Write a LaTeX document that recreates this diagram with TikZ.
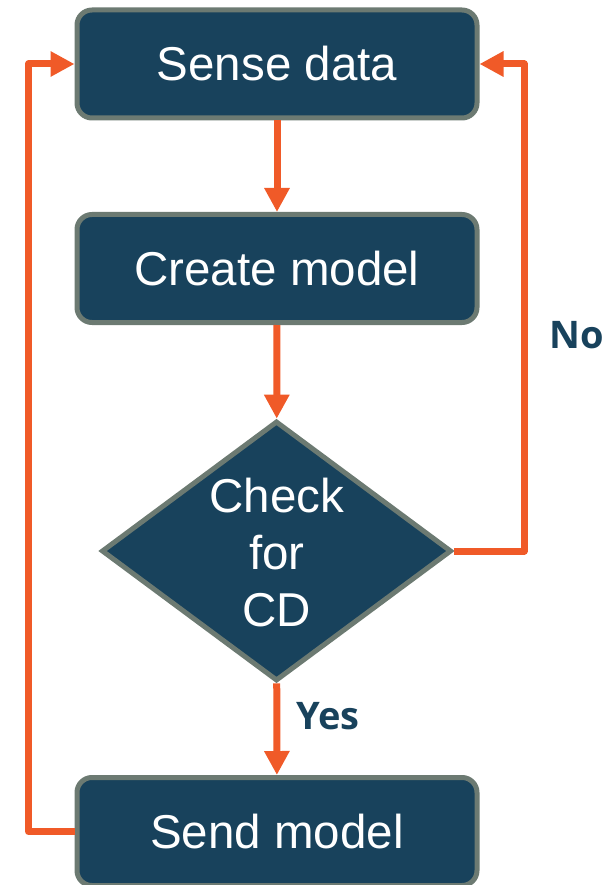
\documentclass[tikz,border=0pt]{standalone}
\usepackage{fontspec}
\setmainfont{Liberation Sans}
\newfontfamily\labfont{Open Sans}
\usetikzlibrary{shapes.geometric,arrows.meta}
\definecolor{boxfill}{HTML}{18425C}
\definecolor{boxline}{HTML}{6C7A72}
\definecolor{arrcol}{HTML}{F05A28}
\tikzset{
  stepbox/.style={draw=boxline, fill=boxfill, line width=5pt, rounded corners=15pt,
    minimum width=400pt, minimum height=108pt, inner sep=0pt, text=white,
    font=\fontsize{47.5}{57}\selectfont},
  decbox/.style={draw=boxline, fill=boxfill, line width=5pt, shape=diamond,
    minimum width=350pt, minimum height=260pt, inner sep=0pt},
  dectext/.style={text=white, align=center, font=\fontsize{47.5}{57}\selectfont, inner sep=0pt},
  flow/.style={draw=arrcol, line width=7pt, line join=round,
    -{Triangle[length=24pt,width=24pt]}},
  lab/.style={text=boxfill, font=\labfont\bfseries\fontsize{38}{42}\selectfont, inner sep=0pt}
}
\begin{document}
\begin{tikzpicture}[x=1pt,y=-1pt]
\useasboundingbox (0,0) rectangle (613,885);
\node[stepbox] (sense) at (277,64) {Sense data};
\node[stepbox] (create) at (277,268.5) {Create model};
\node[decbox] (check) at (276.5,551) {};
\node[dectext] (checktxt) at (277,553) {Check\\for\\CD};
\node[stepbox] (send) at (277,831.5) {Send model};
\coordinate (lb) at (28.5,831.5);
\coordinate (lt) at (28.5,64);
\coordinate (rb) at (524,551);
\coordinate (rt) at (524,64);
\draw[flow] (sense) -- (create);
\draw[flow] (create) -- (check);
\draw[flow] (check) -- (send);
\draw[flow] (send.west) -- (lb) -- (lt) -- (sense.west);
\draw[flow] (check.east) -- (rb) -- (rt) -- (sense.east);
\node[lab, anchor=west] (yes) at (296,716) {Yes};
\node[lab, anchor=west] (no) at (549,335) {No};
\end{tikzpicture}
\end{document}
